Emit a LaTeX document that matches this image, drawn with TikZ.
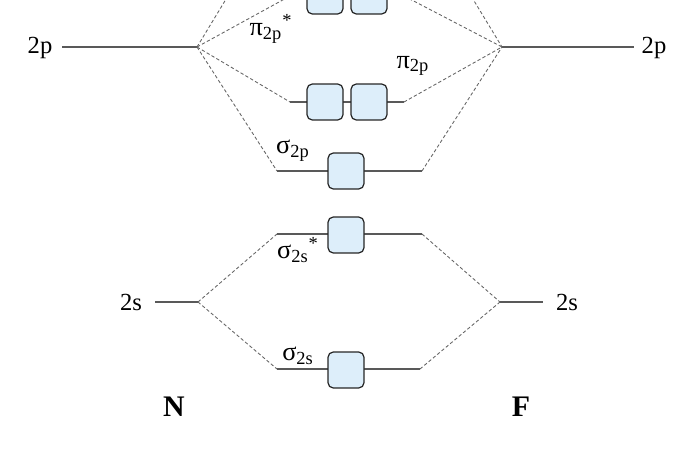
\documentclass[tikz,border=0pt]{standalone}
\usepackage{fontspec}
\setmainfont{Liberation Serif}
\definecolor{boxblue}{HTML}{DDEEFA}
\tikzset{
  level/.style={draw=black!65, line width=0.6pt},
  corr/.style={draw=black!60, dash pattern=on 1.9pt off 1.3pt, line width=0.5pt},
  orbbox/.style={draw=black!85, fill=boxblue, line width=0.7pt, rounded corners=3pt,
    minimum size=0.72cm, inner sep=0pt},
  atomlbl/.style={font=\fontsize{14}{16}\selectfont, inner sep=0pt},
  mollbl/.style={font=\fontsize{15}{17}\selectfont, inner sep=0pt},
  elemlbl/.style={font=\fontsize{17}{20}\selectfont\bfseries, inner sep=0pt}
}
\begin{document}
\begin{tikzpicture}[x=0.02cm, y=-0.02cm]
  \useasboundingbox (0,0) rectangle (700,459);
  \clip (0,0) rectangle (700,459);

  % atomic orbitals
  \coordinate (N2pL) at (62,47);  \coordinate (N2p) at (197,47);
  \coordinate (F2p) at (502,47);  \coordinate (F2pR) at (634,47);
  \coordinate (N2sL) at (155,302); \coordinate (N2s) at (198,302);
  \coordinate (F2s) at (500,302);  \coordinate (F2sR) at (543,302);
  \draw[level] (N2pL) -- (N2p);
  \draw[level] (F2p) -- (F2pR);
  \draw[level] (N2sL) -- (N2s);
  \draw[level] (F2s) -- (F2sR);
  \node[atomlbl] (lN2p) at (40,48) {2p};
  \node[atomlbl] (lF2p) at (654,48) {2p};
  \node[atomlbl] (lN2s) at (131,302) {2s};
  \node[atomlbl] (lF2s) at (567,302) {2s};

  % molecular orbitals
  \foreach \name/\y/\xl/\xr in {s2s/369/277/420, s2ss/234/277/422, s2p/171/277/422,
      p2p/102/290/404, p2ps/-4/290/404, s2ps/-85/277/422} {
    \coordinate (\name L) at (\xl,\y);
    \coordinate (\name R) at (\xr,\y);
    \draw[level] (\name L) -- (\name R);
  }
  \foreach \name/\y in {s2s/370, s2ss/235, s2p/171, s2ps/-85}
    \node[orbbox] (box\name) at (346,\y) {};
  \foreach \name/\y in {p2p/102, p2ps/-4} {
    \node[orbbox] (box\name a) at (325,\y) {};
    \node[orbbox] (box\name b) at (369,\y) {};
  }

  % correlation lines
  \foreach \name in {s2p, p2p, p2ps, s2ps} {
    \draw[corr] (N2p) -- (\name L);
    \draw[corr] (\name R) -- (F2p);
  }
  \foreach \name in {s2s, s2ss} {
    \draw[corr] (N2s) -- (\name L);
    \draw[corr] (\name R) -- (F2s);
  }

  \node[mollbl] (ls2s) at (298,356) {σ\textsubscript{2s}};
  \node[mollbl] (ls2ss) at (298,250) {σ\textsubscript{2s}\textsuperscript{*}};
  \node[mollbl] (ls2p) at (293,151) {σ\textsubscript{2p}};
  \node[mollbl] (lp2p) at (413,66) {π\textsubscript{2p}};
  \node[mollbl] (lp2ps) at (271,29) {π\textsubscript{2p}\textsuperscript{*}};

  \node[elemlbl] (lN) at (174,407) {N};
  \node[elemlbl] (lF) at (521,407) {F};
\end{tikzpicture}
\end{document}
